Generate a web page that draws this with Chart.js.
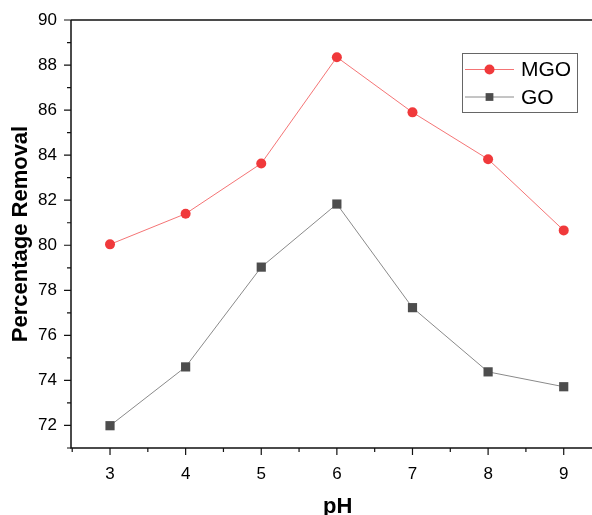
<!DOCTYPE html>
<html>
<head>
<meta charset="utf-8">
<script src="https://cdn.jsdelivr.net/npm/chart.js@4.4.1/dist/chart.umd.min.js"></script>
<style>
	html, body { margin: 0; padding: 0; background: #fff; }
</style>
</head>
<body>
<canvas id="myChart" width="592" height="515"></canvas>
<script>
// values
const phValues = [3, 4, 5, 6, 7, 8, 9];
const mgoValues = [80.04, 81.40, 83.63, 88.35, 85.90, 83.82, 80.66];
const goValues = [71.99, 74.60, 79.03, 81.83, 77.23, 74.38, 73.72];

// tick labels (major) and minor tick marks
const xTicks = [3, 4, 5, 6, 7, 8, 9];
const xMinorTicks = [2.5, 3.5, 4.5, 5.5, 6.5, 7.5, 8.5];
const yTicks = [72, 74, 76, 78, 80, 82, 84, 86, 88, 90];
const yMinorTicks = [71, 73, 75, 77, 79, 81, 83, 85, 87, 89];

const fontName = "'Liberation Sans', Arial, sans-serif";

// axes frame + outward ticks, drawn from the scales
const axisPlugin = {
	id: 'axisFrame',
	beforeDatasetsDraw(chart) {
		const ctx = chart.ctx;
		const area = chart.chartArea;
		const xs = chart.scales.x;
		const ys = chart.scales.y;
		ctx.save();
		ctx.strokeStyle = '#111';
		ctx.lineWidth = 1.5;
		ctx.beginPath();
		ctx.moveTo(area.left, area.top);
		ctx.lineTo(area.right, area.top);
		ctx.moveTo(area.left, area.top);
		ctx.lineTo(area.left, area.bottom);
		ctx.lineTo(area.right, area.bottom);
		ctx.stroke();

		ctx.lineWidth = 1.2;
		ctx.beginPath();
		yTicks.forEach(v => {
			const y = ys.getPixelForValue(v);
			ctx.moveTo(area.left - 7, y);
			ctx.lineTo(area.left, y);
		});
		yMinorTicks.forEach(v => {
			const y = ys.getPixelForValue(v);
			ctx.moveTo(area.left - 4, y);
			ctx.lineTo(area.left, y);
		});
		xTicks.forEach(v => {
			const x = xs.getPixelForValue(v);
			ctx.moveTo(x, area.bottom);
			ctx.lineTo(x, area.bottom + 7);
		});
		xMinorTicks.forEach(v => {
			const x = xs.getPixelForValue(v);
			ctx.moveTo(x, area.bottom);
			ctx.lineTo(x, area.bottom + 4);
		});
		ctx.stroke();
		ctx.restore();
	}
};

// legend with a line through the marker
const legendPlugin = {
	id: 'lineLegend',
	afterDraw(chart) {
		const ctx = chart.ctx;
		const boxX = 462, boxY = 53, boxW = 115, boxH = 59;
		ctx.save();
		ctx.fillStyle = '#fff';
		ctx.fillRect(boxX, boxY, boxW, boxH);
		ctx.strokeStyle = '#666';
		ctx.lineWidth = 1;
		ctx.strokeRect(boxX + 0.5, boxY + 0.5, boxW, boxH);

		chart.data.datasets.forEach((ds, i) => {
			const y = 69.5 + i * 27.5;
			ctx.strokeStyle = ds.borderColor;
			ctx.lineWidth = 1;
			ctx.beginPath();
			ctx.moveTo(465, y);
			ctx.lineTo(514, y);
			ctx.stroke();
			ctx.fillStyle = ds.pointBackgroundColor;
			Chart.helpers.drawPoint(ctx, {
				pointStyle: ds.pointStyle,
				radius: ds.pointStyle === 'rect' ? 5.5 : 5,
				rotation: 0,
				borderWidth: 0
			}, 489.5, y);
			ctx.fillStyle = '#000';
			ctx.font = '21px ' + fontName;
			ctx.textBaseline = 'middle';
			ctx.textAlign = 'left';
			ctx.fillText(ds.label, 521, y + 1);
		});
		ctx.restore();
	}
};

const myChart = document.getElementById('myChart');

let lineChart = new Chart(myChart, {
	type: 'line',
	data: {
		labels: phValues,
		datasets: [{
			label: 'MGO',
			data: mgoValues,
			borderColor: 'rgba(240, 57, 59, 0.7)',
			borderWidth: 1,
			pointStyle: 'circle',
			pointRadius: 5,
			pointBackgroundColor: '#f0393b',
			pointBorderWidth: 0,
			tension: 0
		}, {
			label: 'GO',
			data: goValues,
			borderColor: '#8a8a8a',
			borderWidth: 1,
			pointStyle: 'rect',
			pointRadius: 6.5,
			pointBackgroundColor: '#4d4d4d',
			pointBorderWidth: 0,
			tension: 0
		}]
	},
	options: {
		responsive: false,
		animation: false,
		devicePixelRatio: 1,
		layout: {
			autoPadding: false,
			padding: { top: 20, left: 0, right: 0, bottom: 0 }
		},
		plugins: {
			legend: { display: false },
			tooltip: { enabled: false }
		},
		scales: {
			x: {
				type: 'linear',
				min: 2.484,
				max: 9.374,
				afterBuildTicks: scale => { scale.ticks = xTicks.map(v => ({ value: v })); },
				afterFit: scale => {
					scale.height = 67;
					scale.paddingLeft = 0;
					scale.paddingRight = 0;
				},
				grid: { display: false, tickLength: 7 },
				border: { display: false },
				ticks: {
					padding: 9,
					color: '#000',
					font: { family: fontName, size: 17 }
				},
				title: {
					display: true,
					// leading spaces nudge the centred title right, the frame runs off the picture
					text: '  pH',
					color: '#000',
					font: { family: fontName, size: 22, weight: 'bold' },
					padding: { top: 0, bottom: -5 }
				}
			},
			y: {
				min: 71,
				max: 90,
				afterBuildTicks: scale => { scale.ticks = yTicks.map(v => ({ value: v })); },
				afterFit: scale => { scale.width = 71; },
				grid: { display: false, tickLength: 7 },
				border: { display: false },
				ticks: {
					padding: 7,
					color: '#000',
					font: { family: fontName, size: 17 }
				},
				title: {
					display: true,
					text: 'Percentage Removal',
					color: '#000',
					font: { family: fontName, size: 22, weight: 'bold' },
					padding: { top: 8, bottom: 0 }
				}
			}
		}
	},
	plugins: [axisPlugin, legendPlugin]
});
</script>
</body>
</html>
